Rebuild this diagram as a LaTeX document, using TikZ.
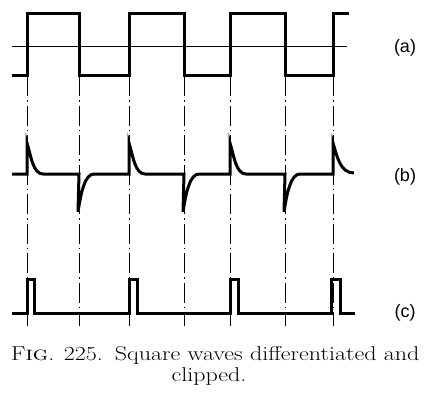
\documentclass[tikz,border=0pt]{standalone}
\usepackage{fontspec}
\newfontfamily\labfont{Liberation Sans}
\begin{document}
\begin{tikzpicture}[x=1pt,y=-1pt,
  wave/.style={line width=3pt,line join=miter},
  axisline/.style={line width=0.9pt},
  guide/.style={line width=0.85pt,dash pattern=on 20pt off 4pt on 1.5pt off 4pt},
  lab/.style={font=\labfont\fontsize{18}{18}\selectfont,inner sep=0pt},
  captext/.style={font=\fontsize{20}{22}\selectfont,inner sep=0pt}]
\useasboundingbox (0,0) rectangle (424,392);
% guide lines
\foreach \x in {27,79,129,184,230,285,333}
  \draw[guide] (\x,76) -- (\x,326);
% (a) square wave
\draw[axisline] (12,46) -- (347,46);
\draw[wave] (12,75) -- (27,75) -- (27,13) -- (79,13) -- (79,75) -- (129,75) -- (129,13)
  -- (184,13) -- (184,75) -- (230,75) -- (230,13) -- (285,13) -- (285,75) -- (333,75)
  -- (333,13) -- (349,13);
% (b) differentiated
\draw[wave] (12,174) -- (27,174) -- (27,143) .. controls (31,156) and (33,174) .. (43,174)
  -- (79,174) -- (78,212) .. controls (81,192) and (85,174) .. (94,174)
  -- (129,174) -- (129,143) .. controls (133,156) and (135,174) .. (145,174)
  -- (184,174) -- (183,212) .. controls (186,192) and (190,174) .. (199,174)
  -- (230,174) -- (230,143) .. controls (234,156) and (236,174) .. (246,174)
  -- (285,174) -- (284,212) .. controls (287,192) and (291,174) .. (300,174)
  -- (333,174) -- (333,143) .. controls (337,156) and (340,173) .. (354,173);
% (c) clipped
\draw[wave] (12,313) -- (27,313) -- (27,279) -- (34,279) -- (34,313)
  -- (129,313) -- (129,279) -- (137,279) -- (137,313)
  -- (230,313) -- (230,279) -- (238,279) -- (238,313)
  -- (331,313) -- (331,279) -- (340,279) -- (340,313) -- (355,313);
% labels
\node[lab] (la) at (405,48) {(a)};
\node[lab] (lb) at (405,177) {(b)};
\node[lab] (lc) at (405,313) {(c)};
% caption
\node[captext,anchor=base west] (cap1) at (11,360) {\scalebox{1.2}[1]{F\textsc{ig}. 225.\enspace Square waves differentiated and}};
\node[captext,anchor=base] (cap2) at (209,381) {\scalebox{1.2}[1]{clipped.}};
\end{tikzpicture}
\end{document}
